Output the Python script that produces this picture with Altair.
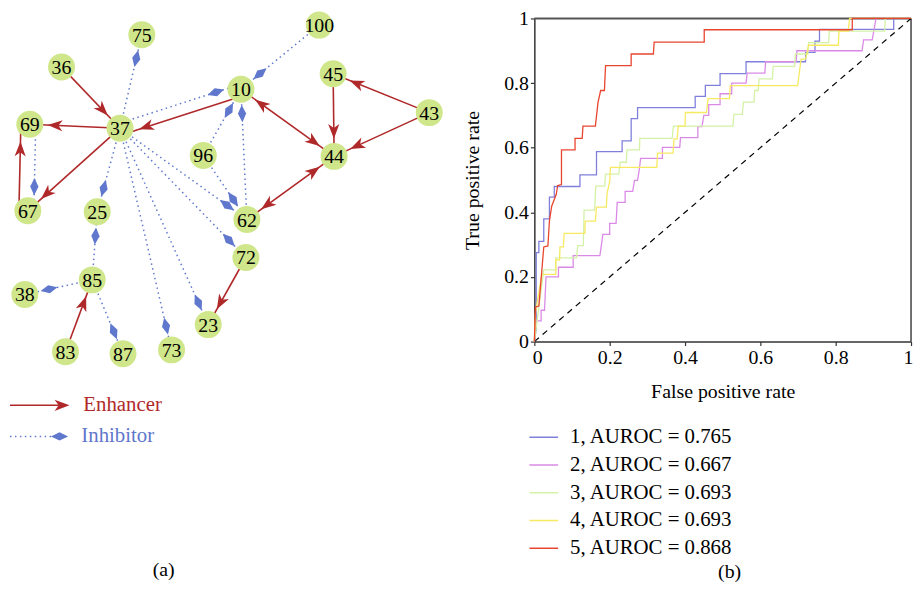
import math
import altair as alt
import pandas as pd

# ---------------- (a) network data ----------------
node_ids = ["75", "100", "36", "45", "10", "43", "69", "37", "96", "44",
            "67", "25", "62", "72", "85", "38", "23", "83", "87", "73"]
node_x = [143, 322, 62, 336, 243, 433, 30, 121, 205, 337,
          28, 98, 249, 248, 93, 25, 210, 66, 124, 173]
node_y = [26, 16, 59, 66, 82, 106, 118, 122, 150, 151,
          207, 208, 216, 255, 278, 293, 324, 352, 354, 350]

# enhancer edges (source -> target), bidirectional flag
enh_src = ["36", "37", "37", "67", "10", "10", "45", "43", "43", "44", "72", "83"]
enh_tgt = ["37", "69", "67", "69", "37", "44", "44", "45", "44", "62", "23", "85"]
enh_both = [False, False, False, False, False, True, False, False, False, True, False, False]

# inhibitor edges (source -| target)
inh_src = ["37", "37", "100", "96", "62", "96", "37", "37", "37", "37", "37", "69", "85", "85", "85"]
inh_tgt = ["75", "10", "10", "10", "10", "62", "62", "72", "25", "73", "23", "67", "25", "38", "87"]

legend_a = ["Enhancer", "Inhibitor"]
panel_labels = ["(a)", "(b)"]

# ---------------- (b) ROC data ----------------
roc_labels = ["1, AUROC = 0.765", "2, AUROC = 0.667", "3, AUROC = 0.693",
              "4, AUROC = 0.693", "5, AUROC = 0.868"]

fpr_1 = [0, 0.005, 0.005, 0.012, 0.012, 0.025, 0.025, 0.04, 0.04, 0.053, 0.053, 0.121, 0.121, 0.165, 0.165,
         0.233, 0.233, 0.257, 0.257, 0.274, 0.274, 0.427, 0.427, 0.454, 0.454, 0.493, 0.493, 0.562, 0.562,
         0.72, 0.72, 0.745, 0.745, 0.757, 0.757, 0.954, 0.954, 1.0]
tpr_1 = [0, 0.04, 0.275, 0.275, 0.31, 0.31, 0.38, 0.38, 0.447, 0.447, 0.48, 0.48, 0.516, 0.516, 0.588,
         0.588, 0.621, 0.621, 0.69, 0.69, 0.724, 0.724, 0.759, 0.759, 0.793, 0.793, 0.829, 0.829, 0.866,
         0.866, 0.895, 0.895, 0.93, 0.93, 0.966, 0.966, 1.0, 1.0]

fpr_2 = [0, 0.003, 0.018, 0.018, 0.027, 0.031, 0.064, 0.064, 0.103, 0.103, 0.174, 0.182, 0.2, 0.2, 0.217,
         0.22, 0.241, 0.241, 0.261, 0.266, 0.274, 0.279, 0.282, 0.34, 0.34, 0.386, 0.388, 0.434, 0.434,
         0.445, 0.45, 0.463, 0.463, 0.493, 0.493, 0.524, 0.524, 0.562, 0.565, 0.612, 0.614, 0.695, 0.697,
         0.87, 0.874, 0.897, 0.907, 1.0]
tpr_2 = [0, 0.064, 0.064, 0.097, 0.097, 0.2, 0.2, 0.23, 0.23, 0.266, 0.266, 0.332, 0.332, 0.366, 0.366,
         0.431, 0.431, 0.465, 0.465, 0.499, 0.499, 0.535, 0.567, 0.567, 0.601, 0.601, 0.631, 0.631, 0.665,
         0.665, 0.70, 0.70, 0.733, 0.733, 0.767, 0.767, 0.80, 0.80, 0.831, 0.831, 0.866, 0.866, 0.90,
         0.90, 0.934, 0.934, 1.0, 1.0]

fpr_3 = [0, 0.025, 0.057, 0.057, 0.112, 0.115, 0.13, 0.132, 0.16, 0.163, 0.187, 0.189, 0.224, 0.228, 0.244,
         0.246, 0.279, 0.28, 0.366, 0.369, 0.527, 0.53, 0.552, 0.555, 0.583, 0.585, 0.594, 0.597, 0.632,
         0.634, 0.691, 0.693, 0.726, 0.728, 0.781, 0.783, 0.93, 0.932, 1.0]
tpr_3 = [0, 0.222, 0.222, 0.259, 0.259, 0.297, 0.297, 0.407, 0.407, 0.481, 0.481, 0.518, 0.518, 0.555, 0.555,
         0.593, 0.593, 0.629, 0.629, 0.667, 0.667, 0.703, 0.703, 0.741, 0.741, 0.777, 0.777, 0.813, 0.813,
         0.852, 0.852, 0.89, 0.89, 0.925, 0.925, 0.961, 0.961, 1.0, 1.0]

fpr_4 = [0, 0.003, 0.007, 0.02, 0.057, 0.057, 0.067, 0.068, 0.077, 0.079, 0.134, 0.135, 0.162, 0.165, 0.191,
         0.193, 0.2, 0.202, 0.325, 0.327, 0.368, 0.371, 0.379, 0.382, 0.4, 0.401, 0.457, 0.461, 0.518, 0.52,
         0.699, 0.708, 0.72, 0.728, 0.807, 0.809, 0.833, 0.837, 1.0]
tpr_4 = [0, 0.087, 0.118, 0.208, 0.208, 0.253, 0.253, 0.293, 0.293, 0.335, 0.335, 0.373, 0.373, 0.416, 0.416,
         0.458, 0.496, 0.539, 0.539, 0.583, 0.583, 0.627, 0.627, 0.667, 0.667, 0.709, 0.709, 0.752, 0.752, 0.792,
         0.792, 0.874, 0.874, 0.917, 0.917, 0.961, 0.961, 1.0, 1.0]

fpr_5 = [0, 0.003, 0.012, 0.025, 0.036, 0.04, 0.046, 0.058, 0.062, 0.072, 0.072, 0.108, 0.108, 0.127, 0.129,
         0.162, 0.169, 0.176, 0.186, 0.189, 0.257, 0.257, 0.316, 0.318, 0.451, 0.451, 0.844, 0.844, 1.0]
tpr_5 = [0, 0.107, 0.11, 0.293, 0.296, 0.373, 0.419, 0.455, 0.483, 0.486, 0.593, 0.593, 0.629, 0.629, 0.667,
         0.667, 0.74, 0.777, 0.777, 0.854, 0.854, 0.89, 0.89, 0.927, 0.927, 0.965, 0.965, 1.0, 1.0]

diag_x = [0, 1]
diag_y = [0, 1]

# ---------------- styles / layout ----------------
FONT = "Liberation Serif"
RED = "#b0292a"
BLUE = "#5f77cc"
NODE = "#cfe68b"
ROC_COLORS = ["#8080dc", "#da8ae6", "#d4f2a6", "#f7ea62", "#e8452f"]
ARROW = "M0,0L0.75,2L0,1.45L-0.75,2Z"       # tip at origin, pointing up
DIAMOND = "M0,-1L0.48,0L0,1L-0.48,0Z"
R_TIP = 18        # arrow tip distance from target centre
R_DIA = 25        # diamond centre distance from target centre
offsets = {("e", "10", "37"): -7, ("i", "37", "10"): -5,
           ("e", "67", "69"): -9, ("i", "69", "67"): -6}
LEG_ENH = (10, 70, 407)      # x start, arrow tip x, y
LEG_INH = (10, 52, 60, 439)  # x start, x end, diamond x, y

W, H = 914, 575                       # whole drawing (page minus 8px margin)
NET_X = ([8, 8 + W], [0, W])          # network layout units -> pixels
NET_Y = ([1, 369], [0, 361])
ROC_X = [531, 911]                    # ROC plot area in pixels
ROC_Y = [334, 8]
LAB_POS = [(157, 564), (728, 566)]    # (a), (b)

pos = dict(zip(node_ids, zip(node_x, node_y)))


def ang(ux, uy):
    return math.degrees(math.atan2(ux, -uy)) % 360


def segment(kind, s, t):
    (x1, y1), (x2, y2) = pos[s], pos[t]
    dx, dy = x2 - x1, y2 - y1
    L = math.hypot(dx, dy)
    ux, uy = dx / L, dy / L
    off = offsets.get((kind, s, t), 0)
    nx, ny = -uy * off, ux * off
    return x1 + nx, y1 + ny, x2 + nx, y2 + ny, ux, uy


enh_lines, enh_heads = [], []
for s, t, both in zip(enh_src, enh_tgt, enh_both):
    x1, y1, x2, y2, ux, uy = segment("e", s, t)
    enh_lines.append({"x": x1, "y": y1, "x2": x2, "y2": y2})
    enh_heads.append({"x": x2 - ux * R_TIP, "y": y2 - uy * R_TIP, "angle": ang(ux, uy)})
    if both:
        enh_heads.append({"x": x1 + ux * R_TIP, "y": y1 + uy * R_TIP, "angle": ang(-ux, -uy)})
enh_lines.append({"x": LEG_ENH[0], "y": LEG_ENH[2], "x2": LEG_ENH[1] - 4, "y2": LEG_ENH[2]})
enh_heads.append({"x": LEG_ENH[1], "y": LEG_ENH[2], "angle": 90.0})

inh_lines, inh_marks = [], []
for s, t in zip(inh_src, inh_tgt):
    x1, y1, x2, y2, ux, uy = segment("i", s, t)
    inh_lines.append({"x": x1, "y": y1, "x2": x2, "y2": y2})
    inh_marks.append({"x": x2 - ux * R_DIA, "y": y2 - uy * R_DIA, "angle": ang(ux, uy)})
inh_lines.append({"x": LEG_INH[0], "y": LEG_INH[3], "x2": LEG_INH[1], "y2": LEG_INH[3]})
inh_marks.append({"x": LEG_INH[2], "y": LEG_INH[3], "angle": 90.0})

nodes_df = pd.DataFrame({"id": node_ids, "x": node_x, "y": node_y})

xs = alt.Scale(domain=NET_X[0], range=NET_X[1], nice=False, zero=False)
ys = alt.Scale(domain=NET_Y[0], range=NET_Y[1], nice=False, zero=False)
X = alt.X("x:Q", scale=xs, axis=None)
Y = alt.Y("y:Q", scale=ys, axis=None)

inh_l = alt.Chart(pd.DataFrame(inh_lines)).mark_rule(
    color=BLUE, strokeWidth=1.5, strokeDash=[1.5, 3.5]).encode(x=X, y=Y, x2="x2:Q", y2="y2:Q")
enh_l = alt.Chart(pd.DataFrame(enh_lines)).mark_rule(
    color=RED, strokeWidth=1.6).encode(x=X, y=Y, x2="x2:Q", y2="y2:Q")
node_c = alt.Chart(nodes_df).mark_circle(size=740, color=NODE, opacity=1).encode(x=X, y=Y)
node_t = alt.Chart(nodes_df).mark_text(font=FONT, fontSize=20, color="black", dy=1).encode(
    x=X, y=Y, text="id:N")
dia = alt.Chart(pd.DataFrame(inh_marks)).mark_point(
    shape=DIAMOND, filled=True, size=300, color=BLUE, opacity=1).encode(
    x=X, y=Y, angle=alt.Angle("angle:Q", scale=None))
heads = alt.Chart(pd.DataFrame(enh_heads)).mark_point(
    shape=ARROW, filled=True, size=225, color=RED, opacity=1).encode(
    x=X, y=Y, angle=alt.Angle("angle:Q", scale=None))
leg_e = alt.Chart(pd.DataFrame({"t": [legend_a[0]], "x": [84], "y": [LEG_ENH[2]]})).mark_text(
    font=FONT, fontSize=21, align="left", color=RED).encode(x=X, y=Y, text="t:N")
leg_i = alt.Chart(pd.DataFrame({"t": [legend_a[1]], "x": [82], "y": [LEG_INH[3]]})).mark_text(
    font=FONT, fontSize=21, align="left", color=BLUE).encode(x=X, y=Y, text="t:N")

net = alt.layer(inh_l, enh_l, node_c, node_t, dia, heads, leg_e, leg_i)

# ---------------- right ROC panel ----------------
rows = []
for lab, fx, ty in zip(roc_labels, [fpr_1, fpr_2, fpr_3, fpr_4, fpr_5], [tpr_1, tpr_2, tpr_3, tpr_4, tpr_5]):
    for i, (a, b) in enumerate(zip(fx, ty)):
        rows.append({"fpr": a, "tpr": b, "model": lab, "i": i})
roc_df = pd.DataFrame(rows)

axis_common = dict(grid=False, labelFont=FONT, titleFont=FONT, labelFontSize=20, titleFontSize=20,
                   titleFontWeight="normal", labelColor="black", titleColor="black",
                   domainColor="#333333", domainWidth=1.5, tickColor="#333333", tickSize=4,
                   tickWidth=1.2, format="~g", values=[0, 0.2, 0.4, 0.6, 0.8, 1])
RX = alt.X("fpr:Q", scale=alt.Scale(domain=[0, 1], range=ROC_X, nice=False),
           axis=alt.Axis(title="False positive rate", orient="bottom", offset=ROC_Y[0] - H,
                         labelFlush=True, labelFlushOffset=2, titlePadding=14, **axis_common))
RY = alt.Y("tpr:Q", scale=alt.Scale(domain=[0, 1], range=ROC_Y, nice=False),
           axis=alt.Axis(title="True positive rate", orient="left", offset=-ROC_X[0],
                         titlePadding=21, **axis_common))

frame_top = alt.Chart(pd.DataFrame({"fpr": [0], "f2": [1], "tpr": [1]})).mark_rule(
    color="#555555", strokeWidth=2).encode(x=RX, x2="f2:Q", y=RY)
frame_right = alt.Chart(pd.DataFrame({"fpr": [1], "tpr": [0], "t2": [1]})).mark_rule(
    color="#111111", strokeWidth=1.2).encode(x=RX, y=RY, y2="t2:Q")
diag = alt.Chart(pd.DataFrame({"fpr": diag_x, "tpr": diag_y})).mark_line(
    color="black", strokeDash=[6, 5], strokeWidth=1.2).encode(x=RX, y=RY)
curves = alt.Chart(roc_df).mark_line(strokeWidth=1.3).encode(
    x=RX, y=RY, order="i:Q",
    color=alt.Color("model:N", scale=alt.Scale(domain=roc_labels, range=ROC_COLORS),
                    legend=alt.Legend(orient="none", legendX=525, legendY=415, title=None,
                                      symbolType="stroke", symbolSize=841, symbolStrokeWidth=1.5,
                                      labelFont=FONT, labelFontSize=21, labelColor="black",
                                      labelLimit=400, labelOffset=11, rowPadding=2)))

roc = alt.layer(frame_top, frame_right, diag, curves)

lab_a = alt.Chart(pd.DataFrame({"t": [panel_labels[0]]})).mark_text(
    font=FONT, fontSize=20, color="black").encode(
    text="t:N", x=alt.value(LAB_POS[0][0]), y=alt.value(LAB_POS[0][1]))
lab_b = alt.Chart(pd.DataFrame({"t": [panel_labels[1]]})).mark_text(
    font=FONT, fontSize=20, color="black").encode(
    text="t:N", x=alt.value(LAB_POS[1][0]), y=alt.value(LAB_POS[1][1]))

chart = alt.layer(net, roc, lab_a, lab_b).resolve_scale(
    x="independent", y="independent").properties(
    width=W, height=H, padding=0, autosize=alt.AutoSizeParams(type="none"),
    view=alt.ViewBackground(strokeOpacity=0))
chart.save("out.html", embed_options={"renderer": "svg", "actions": False})
